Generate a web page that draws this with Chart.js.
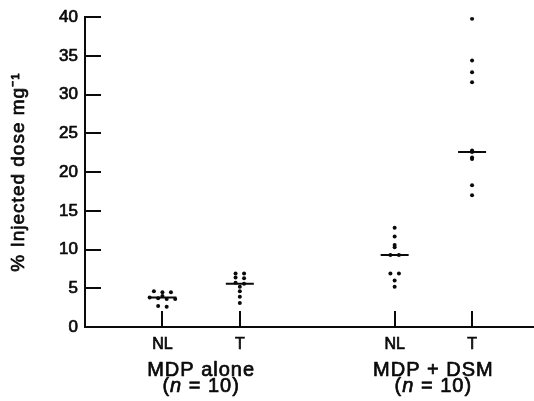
<!DOCTYPE html>
<html>
<head>
<meta charset="utf-8">
<script src="https://cdn.jsdelivr.net/npm/chart.js@4/dist/chart.umd.min.js"></script>
<style>
  html, body { margin: 0; padding: 0; background: #fff; }
  #wrap { width: 534px; height: 401px; }
</style>
</head>
<body>
<div id="wrap"><canvas id="chart"></canvas></div>
<script>
// values (% injected dose per mg)
const tickLabels = ['NL', 'T', 'NL', 'T'];
const tickPos = [1, 2, 4, 5];
const groupNames = ['MDP alone', 'MDP + DSM'];
const groupN = [10, 10];
const yTicks = [0, 5, 10, 15, 20, 25, 30, 35, 40];
const yTitle = '% Injected dose mg⁻¹';

const mdpNL = [4.6, 4.5, 4.5, 4.0, 3.8, 3.7, 3.6, 3.6, 2.7, 2.6];
const mdpT = [6.9, 6.9, 6.4, 6.3, 5.7, 5.6, 5.2, 4.6, 3.9, 3.1];
const dsmNL = [12.8, 11.7, 10.6, 10.3, 9.3, 9.3, 6.9, 6.9, 6.0, 5.2];
const dsmT = [39.8, 34.4, 32.9, 31.6, 22.8, 22.6, 21.9, 21.7, 18.3, 17.0];
const means = [3.8, 5.6, 9.3, 22.6];

const FONT = "'Liberation Sans', Arial, Helvetica, sans-serif";
const INK = '#0a0a0a';
const STROKE = 0.7; // printed type is a bit heavier than regular

// dots with (almost) the same value get pushed a little sideways
function spread(values, center) {
    const sorted = [...values].sort((a, b) => b - a);
    const out = [];
    let i = 0;
    while (i < sorted.length) {
        let j = i;
        while (j + 1 < sorted.length && sorted[j] - sorted[j + 1] <= 0.15) j++;
        const k = j - i + 1;
        for (let m = 0; m < k; m++) {
            out.push({ x: center + (m - (k - 1) / 2) * 0.11, y: sorted[i + m] });
        }
        i = j + 1;
    }
    return out;
}

const allSeries = [mdpNL, mdpT, dsmNL, dsmT];
const dotData = [];
allSeries.forEach((s, i) => dotData.push(...spread(s, tickPos[i])));
const meanData = means.map((m, i) => ({ x: tickPos[i], y: m }));

function heavyText(ctx, text, x, y) {
    ctx.fillText(text, x, y);
    ctx.strokeText(text, x, y);
}

// inward ticks + the printed-style captions
const figureExtras = {
    id: 'figureExtras',
    afterDraw(chart) {
        const { ctx, chartArea, scales } = chart;
        ctx.save();
        ctx.strokeStyle = INK;
        ctx.lineWidth = 2;
        ctx.beginPath();
        yTicks.forEach(v => {
            const y = Math.round(scales.y.getPixelForValue(v));
            ctx.moveTo(chartArea.left, y);
            ctx.lineTo(chartArea.left + 16, y);
        });
        tickPos.forEach(v => {
            const x = Math.round(scales.x.getPixelForValue(v));
            ctx.moveTo(x, chartArea.bottom);
            ctx.lineTo(x, chartArea.bottom - 16);
        });
        ctx.stroke();

        ctx.fillStyle = INK;
        ctx.lineWidth = STROKE;
        ctx.lineJoin = 'round';
        ctx.letterSpacing = '1px';

        // y title, rotated
        ctx.save();
        ctx.translate(24, (chartArea.top + chartArea.bottom) / 2);
        ctx.rotate(-Math.PI / 2);
        ctx.font = `19px ${FONT}`;
        ctx.textAlign = 'center';
        ctx.textBaseline = 'alphabetic';
        heavyText(ctx, yTitle, 0, 0);
        ctx.restore();

        // group captions
        ctx.textBaseline = 'alphabetic';
        groupNames.forEach((name, g) => {
            const cx = (scales.x.getPixelForValue(tickPos[g * 2]) + scales.x.getPixelForValue(tickPos[g * 2 + 1])) / 2;
            ctx.font = `20px ${FONT}`;
            ctx.textAlign = 'center';
            heavyText(ctx, name, cx, chartArea.bottom + 49);

            const parts = [
                { t: '(', f: `20px ${FONT}` },
                { t: 'n', f: `italic 20px ${FONT}` },
                { t: ` = ${groupN[g]})`, f: `20px ${FONT}` }
            ];
            let total = 0;
            parts.forEach(p => { ctx.font = p.f; p.w = ctx.measureText(p.t).width; total += p.w; });
            let x = cx - total / 2;
            ctx.textAlign = 'left';
            parts.forEach(p => {
                ctx.font = p.f;
                heavyText(ctx, p.t, x, chartArea.bottom + 65);
                x += p.w;
            });
        });
        ctx.letterSpacing = '0px';
        ctx.restore();
    }
};

new Chart(document.getElementById('chart'), {
    type: 'scatter',
    data: {
        datasets: [
            {
                label: 'Values',
                data: dotData,
                pointRadius: 2,
                pointBackgroundColor: INK,
                pointBorderWidth: 0,
                pointHoverRadius: 2
            },
            {
                label: 'Mean',
                data: meanData,
                pointStyle: 'line',
                pointRadius: 14,
                pointBorderColor: INK,
                pointBorderWidth: 2,
                pointHoverRadius: 14
            }
        ]
    },
    options: {
        responsive: true,
        maintainAspectRatio: false,
        animation: false,
        layout: { autoPadding: false, padding: { top: 17, right: 0, left: 0, bottom: 0 } },
        plugins: { legend: { display: false }, tooltip: { enabled: false } },
        scales: {
            x: {
                type: 'linear',
                min: 0,
                max: 5.8,
                afterFit: (scale) => { scale.height = 74; },
                afterBuildTicks: (scale) => { scale.ticks = tickPos.map(v => ({ value: v })); },
                grid: { display: true, drawOnChartArea: false, drawTicks: false },
                border: { display: true, color: INK, width: 2 },
                ticks: {
                    padding: 8,
                    color: INK,
                    textStrokeColor: INK,
                    textStrokeWidth: STROKE,
                    font: { family: FONT, size: 16 },
                    maxRotation: 0,
                    callback: (v) => tickLabels[tickPos.indexOf(v)] ?? ''
                }
            },
            y: {
                min: 0,
                max: 40,
                afterFit: (scale) => { scale.width = 85; },
                afterBuildTicks: (scale) => { scale.ticks = yTicks.map(v => ({ value: v })); },
                grid: { display: true, drawOnChartArea: false, drawTicks: false },
                border: { display: true, color: INK, width: 2 },
                ticks: {
                    padding: 7,
                    color: INK,
                    textStrokeColor: INK,
                    textStrokeWidth: STROKE,
                    font: { family: FONT, size: 17 }
                }
            }
        }
    },
    plugins: [figureExtras]
});
</script>
</body>
</html>
